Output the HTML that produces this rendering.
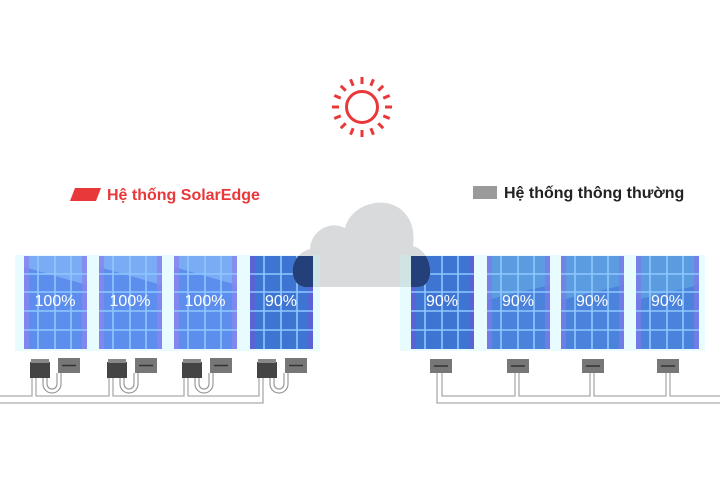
<!DOCTYPE html>
<html><head><meta charset="utf-8"><style>
html,body{margin:0;padding:0;background:#fff;}
svg{display:block}
text{font-family:"Liberation Sans",sans-serif}
</style></head><body>
<svg width="720" height="480" viewBox="0 0 720 480" xmlns="http://www.w3.org/2000/svg">
<defs>
  <g id="grid" stroke="#8fc8ff" stroke-width="1.6" fill="none">
    <line x1="38" y1="256" x2="38" y2="349"/><line x1="55" y1="256" x2="55" y2="349"/><line x1="71" y1="256" x2="71" y2="349"/>
    <line x1="24" y1="274" x2="87" y2="274"/><line x1="24" y1="292" x2="87" y2="292"/><line x1="24" y1="311" x2="87" y2="311"/><line x1="24" y1="330" x2="87" y2="330"/>
  </g>
  <g id="pl">
    <rect x="24" y="256" width="63" height="93" fill="#5d8eee"/>
    <polygon points="24,256 87,256 87,285 24,267" fill="#7aacf6"/>
    <rect x="24" y="256" width="5" height="93" fill="#8a86ee" opacity="0.8"/>
    <rect x="82" y="256" width="5" height="93" fill="#8a86ee" opacity="0.8"/>
    <use href="#grid"/>
  </g>
  <g id="pd">
    <rect x="24" y="256" width="63" height="93" fill="#3f75d2"/>
    <rect x="24" y="256" width="5" height="93" fill="#5d62d6" opacity="0.9"/>
    <rect x="82" y="256" width="5" height="93" fill="#5d62d6" opacity="0.9"/>
    <use href="#grid"/>
  </g>
  <g id="pm">
    <rect x="24" y="256" width="63" height="93" fill="#4a82dc"/>
    <polygon points="24,256 87,256 87,285 24,300" fill="#5b9ce0"/>
    <rect x="24" y="256" width="5" height="93" fill="#7a7ae8" opacity="0.8"/>
    <rect x="82" y="256" width="5" height="93" fill="#7a7ae8" opacity="0.8"/>
    <use href="#grid"/>
  </g>
  <g id="optL">
    <rect x="30" y="362" width="20" height="16" fill="#444"/>
    <rect x="31" y="359" width="18" height="4" fill="#888"/>
    <rect x="58" y="358" width="22" height="15" fill="#777"/>
    <line x1="62" y1="365.5" x2="76" y2="365.5" stroke="#333" stroke-width="1.5"/>
    <path d="M43,378 v6 a9,9 0 0 0 18,0 v-11 M47,378 v6 a5,5 0 0 0 10,0 v-11" fill="none" stroke="#999" stroke-width="1.2"/>
  </g>
  <g id="optR">
    <rect x="430" y="359" width="22" height="14" fill="#777"/>
    <line x1="434" y1="366" x2="448" y2="366" stroke="#333" stroke-width="1.5"/>
  </g>
  <path id="cloud" d="M306,287 C289,287 286,256 310,249 C311,231 329,220 345,228 C351,205 381,196 399,208 C412,217 415,232 413,246 C434,252 436,287 418,287 Z"/>
  <clipPath id="cc"><use href="#cloud"/></clipPath>
</defs>

<rect x="15" y="255" width="305" height="96" fill="#e8fcff"/>
<rect x="400" y="255" width="305" height="96" fill="#e8fcff"/>

<use href="#pl"/>
<use href="#pl" x="75"/>
<use href="#pl" x="150"/>
<use href="#pd" x="226"/>
<use href="#pd" x="387"/>
<use href="#pm" x="463"/>
<use href="#pm" x="537"/>
<use href="#pm" x="612"/>

<!-- cloud -->
<use href="#cloud" fill="#d8dadc"/>
<g clip-path="url(#cc)">
  <rect x="250" y="256" width="63" height="93" fill="#24407a"/>
  <rect x="411" y="256" width="63" height="93" fill="#24407a"/>
  <rect x="313" y="255" width="7" height="40" fill="#d0e4e6"/>
  <rect x="400" y="255" width="11" height="40" fill="#d0e4e6"/>
</g>

<g fill="#fff" font-size="16" text-anchor="middle">
<text x="55" y="306">100%</text><text x="130" y="306">100%</text><text x="205" y="306">100%</text><text x="281" y="306">90%</text>
<text x="442" y="306">90%</text><text x="518" y="306">90%</text><text x="592" y="306">90%</text><text x="667" y="306">90%</text>
</g>

<!-- sun -->
<g stroke="#e8383a" stroke-width="3" fill="none">
  <circle cx="362" cy="107" r="15.5"/>
  <g id="ray"><line x1="362" y1="84" x2="362" y2="77"/><line x1="362" y1="130" x2="362" y2="137"/></g>
  <use href="#ray" transform="rotate(22.5 362 107)"/><use href="#ray" transform="rotate(45 362 107)"/><use href="#ray" transform="rotate(67.5 362 107)"/>
  <use href="#ray" transform="rotate(90 362 107)"/><use href="#ray" transform="rotate(112.5 362 107)"/><use href="#ray" transform="rotate(135 362 107)"/><use href="#ray" transform="rotate(157.5 362 107)"/>
</g>

<polygon points="75,188 101,188 96,201 70,201" fill="#e8383a"/>
<text x="107" y="200" font-size="16" fill="#e8383a" font-weight="bold" style="font-weight:600">Hệ thống SolarEdge</text>
<rect x="473" y="186" width="24" height="13" fill="#9a9a9a"/>
<text x="504" y="198" font-size="16" font-weight="bold" fill="#222">Hệ thống thông thường</text>

<use href="#optL"/><use href="#optL" x="77"/><use href="#optL" x="152"/><use href="#optL" x="227"/>
<g fill="none" stroke="#aaa" stroke-width="1.3">
  <path d="M0,396 H32 V378 M36,378 V396 H109 V378 M113,378 V396 H184 V378 M188,378 V396 H259 V378"/>
  <path d="M0,403 H263 V378"/>
</g>
<use href="#optR"/><use href="#optR" x="77"/><use href="#optR" x="152"/><use href="#optR" x="227"/>
<g fill="none" stroke="#aaa" stroke-width="1.3">
  <path d="M437,373 V403 H720"/>
  <path d="M442,373 V396 H515 V373 M519,373 V396 H590 V373 M594,373 V396 H666 V373 M670,373 V396 H720"/>
</g>
</svg>
</body></html>
